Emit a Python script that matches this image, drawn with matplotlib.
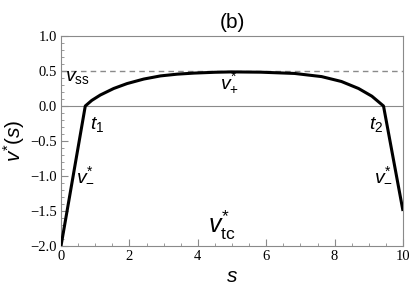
import matplotlib.pyplot as plt
from matplotlib.ticker import MultipleLocator

plt.rcParams['mathtext.fontset'] = 'custom'
plt.rcParams['mathtext.it'] = 'Liberation Sans:italic'
plt.rcParams['mathtext.rm'] = 'Liberation Sans'
plt.rcParams['mathtext.sf'] = 'Liberation Sans'

# values
s_vals = [0, 0.71, 0.9, 1.15, 1.54, 1.93, 2.42, 2.91, 3.4, 3.89, 4.5, 5.0,
          5.85, 6.83, 7.62, 8.2, 8.7, 9.09, 9.43, 10]
v_vals = [-2.0, 0.0, 0.08, 0.157, 0.25, 0.32, 0.385, 0.43, 0.455, 0.47,
          0.482, 0.487, 0.483, 0.465, 0.42, 0.35, 0.25, 0.14, 0.0, -1.5]
v_ss = 0.5
x_ticks = [0, 2, 4, 6, 8, 10]
y_ticks = [-2.0, -1.5, -1.0, -0.5, 0.0, 0.5, 1.0]

gray = '#8a8a8a'

fig = plt.figure(figsize=(4.09, 2.99), dpi=100)
ax = fig.add_axes([61 / 409, 53 / 299, 342 / 409, 210 / 299])

ax.axhline(0, color=gray, lw=0.8, zorder=1)
ax.axhline(v_ss, color=gray, lw=1.0, ls=(0, (4, 3)), zorder=1)
ax.plot(s_vals, v_vals, color='black', lw=2.2, solid_joinstyle='round',
        solid_capstyle='butt', zorder=3)

ax.set_xlim(0, 10)
ax.set_ylim(-2.0, 1.0)
ax.set_xticks(x_ticks)
ax.set_yticks(y_ticks)
ax.set_xticklabels([str(t) for t in x_ticks])
ax.set_yticklabels([f'{t:.1f}'.replace('-', '\u2212') for t in y_ticks])
ax.xaxis.set_minor_locator(MultipleLocator(0.5))
ax.yaxis.set_minor_locator(MultipleLocator(0.1))
ax.tick_params(which='both', direction='in', color=gray, top=False, right=False,
               labelsize=10.5, pad=3)
ax.tick_params(which='major', length=5, width=0.8)
ax.tick_params(which='minor', length=2.5, width=0.6)
for lab in ax.get_xticklabels() + ax.get_yticklabels():
    lab.set_fontfamily('Liberation Serif')
for sp in ax.spines.values():
    sp.set_color(gray)
    sp.set_linewidth(0.8)

ax.set_title('(b)', fontsize=15, family='Liberation Sans', pad=6)
ax.set_xlabel('$s$', fontsize=15, labelpad=2)
ax.set_ylabel('$v^{*}(s)$', fontsize=15, labelpad=2)

fs = 14
ax.text(0.12, 0.36, r'$v_{\mathrm{ss}}$', fontsize=fs)
ax.text(4.65, 0.25, r'$v_{+}^{*}$', fontsize=fs)
ax.text(0.85, -0.33, r'$t_{1}$', fontsize=fs)
ax.text(9.0, -0.33, r'$t_{2}$', fontsize=fs)
ax.text(0.45, -1.05, r'$v_{-}^{*}$', fontsize=fs)
ax.text(9.15, -1.05, r'$v_{-}^{*}$', fontsize=fs)
ax.text(4.3, -1.82, r'$v_{\mathrm{tc}}^{*}$', fontsize=18)

fig.savefig('out.png', dpi=100)
